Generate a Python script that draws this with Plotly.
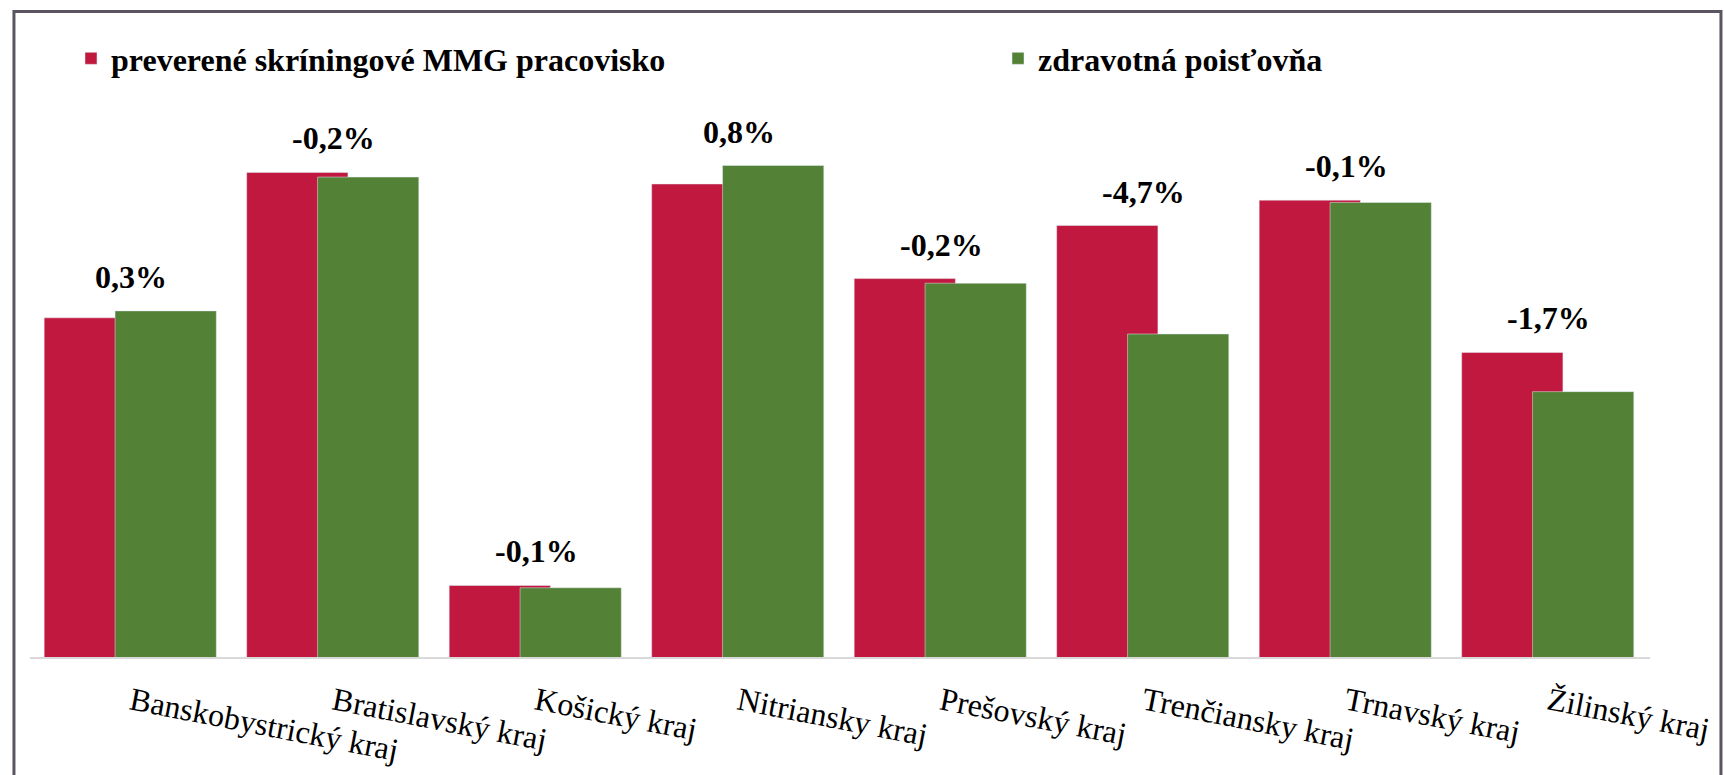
import plotly.graph_objects as go

# kraje (categories)
regions = ["Banskobystrický kraj", "Bratislavský kraj", "Košický kraj", "Nitriansky kraj",
           "Prešovský kraj", "Trenčiansky kraj", "Trnavský kraj", "Žilinský kraj"]

# values (%)
mmg_values = [44.7, 51.0, 33.1, 50.5, 46.4, 48.7, 49.8, 43.2]
zp_values = [45.0, 50.8, 33.0, 51.3, 46.2, 44.0, 49.7, 41.5]

# difference labels shown above each pair
diff_labels = ["0,3%", "-0,2%", "-0,1%", "0,8%", "-0,2%", "-4,7%", "-0,1%", "-1,7%"]

RED = "#C0183F"
GREEN = "#538135"
FONT = "Liberation Serif"

fig = go.Figure()
fig.add_trace(go.Bar(x=regions, y=mmg_values, name="preverené skríningové MMG pracovisko",
                     marker_color=RED, width=0.5, offset=-0.43, legend="legend"))
fig.add_trace(go.Bar(x=regions, y=zp_values, name="zdravotná poisťovňa",
                     marker_color=GREEN, width=0.5, offset=-0.08, legend="legend2"))

# percentage labels above the higher bar of each region
for reg, a, b, txt in zip(regions, mmg_values, zp_values, diff_labels):
    fig.add_annotation(x=reg, y=max(a, b), text=txt, showarrow=False,
                       yanchor="bottom", yshift=14,
                       font=dict(family=FONT, size=32, color="black", weight="bold"))

# outer frame
fig.add_shape(type="rect", xref="paper", yref="paper",
              x0=-0.0099, x1=1.0438, y0=-0.25, y1=1.1587,
              line=dict(color="#5A5560", width=3), layer="above")

leg_font = dict(family=FONT, size=32, weight="bold", color="black")
fig.update_layout(
    width=1724, height=775,
    margin=dict(l=30, r=74, t=100, b=117.5, autoexpand=False),
    barmode="overlay",
    plot_bgcolor="white", paper_bgcolor="white",
    font=dict(family=FONT, color="black"),
    showlegend=True,
    legend=dict(orientation="h", xref="container", yref="container",
                x=71 / 1724, y=1 - 31 / 775, xanchor="left", yanchor="top",
                font=leg_font, bgcolor="rgba(0,0,0,0)"),
    legend2=dict(orientation="h", xref="container", yref="container",
                 x=998 / 1724, y=1 - 31 / 775, xanchor="left", yanchor="top",
                 font=leg_font, bgcolor="rgba(0,0,0,0)"),
)
fig.update_xaxes(showline=True, linecolor="#D9D9D9", linewidth=2,
                 showgrid=False, tickangle=11, ticks="", automargin=False,
                 tickfont=dict(family=FONT, size=32, color="black"),
                 ticklabelstandoff=12)
fig.update_yaxes(range=[30, 54.14], visible=False, showgrid=False,
                 zeroline=False, automargin=False)

# drop the default page margin so the figure sits at the window corner
fig.write_html("out.html", config={"displayModeBar": False},
               post_script="document.body.style.margin = '0';")
